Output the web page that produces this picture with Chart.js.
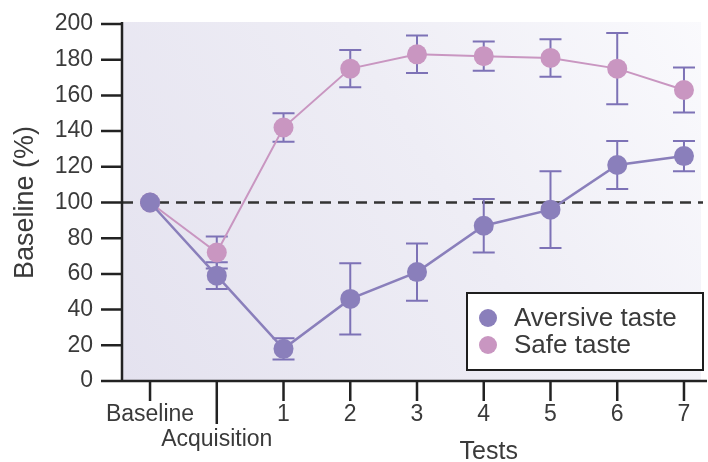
<!DOCTYPE html>
<html>
<head>
<meta charset="utf-8">
<script src="https://cdn.jsdelivr.net/npm/chart.js@4.4.1/dist/chart.umd.min.js"></script>
<style>
  html, body { margin: 0; padding: 0; background: #ffffff; }
  #wrap { width: 708px; height: 462px; position: relative; }
</style>
</head>
<body>
<div id="wrap"><canvas id="c"></canvas></div>
<script>
// Session stages along the x axis (index = position on the axis)
const stages = ['Baseline', 'Acquisition', '1', '2', '3', '4', '5', '6', '7'];
const testGroupLabel = 'Tests';
const yTicks = [0, 20, 40, 60, 80, 100, 120, 140, 160, 180, 200];
const referenceLevel = 100;

// Consumption relative to baseline (%), mean and error per stage
const aversiveMean = [100, 59, 18, 46, 61, 87, 96, 121, 126];
const aversiveErr  = [0, 7.5, 6, 20, 16, 15, 21.5, 13.5, 8.5];
const safeMean     = [100, 72, 142, 175, 183, 182, 181, 175, 163];
const safeErr      = [0, 9, 8, 10.5, 10.5, 8.2, 10.5, 20, 12.6];

const seriesNames = ['Aversive taste', 'Safe taste'];
const purple = '#8a7fbb';
const pink = '#c996c1';
const errColor = '#7d72b6';
const ink = '#3a3a3a';
const FONT = '"Liberation Sans", Arial, sans-serif';

const toPoints = (arr) => arr.map((v, i) => ({ x: i, y: v }));

const frame = {
  id: 'frame',
  beforeDraw(chart) {
    const { ctx, chartArea: a } = chart;
    const g = ctx.createLinearGradient(a.left, a.bottom, a.right, a.top);
    g.addColorStop(0, '#e4e2ef');
    g.addColorStop(0.55, '#eeedf5');
    g.addColorStop(1, '#fafafd');
    ctx.save();
    ctx.fillStyle = g;
    ctx.fillRect(a.left, a.top - 2, a.right - a.left - 6, a.bottom - a.top + 2);
    ctx.restore();
  },
  beforeDatasetsDraw(chart) {
    const { ctx, chartArea: a, scales: { x, y } } = chart;
    ctx.save();
    // reference line at baseline level
    const yr = y.getPixelForValue(referenceLevel);
    ctx.strokeStyle = '#333333';
    ctx.lineWidth = 2.5;
    ctx.setLineDash([11, 7]);
    ctx.beginPath();
    ctx.moveTo(a.left, yr);
    ctx.lineTo(a.right - 4, yr);
    ctx.stroke();
    ctx.setLineDash([]);
    // error bars
    ctx.strokeStyle = errColor;
    ctx.lineWidth = 2;
    const cap = 11;
    [[safeMean, safeErr], [aversiveMean, aversiveErr]].forEach(([m, e]) => {
      m.forEach((v, i) => {
        if (!e[i]) return;
        const px = x.getPixelForValue(i);
        const hi = y.getPixelForValue(v + e[i]);
        const lo = y.getPixelForValue(v - e[i]);
        ctx.beginPath();
        ctx.moveTo(px, hi); ctx.lineTo(px, lo);
        ctx.moveTo(px - cap, hi); ctx.lineTo(px + cap, hi);
        ctx.moveTo(px - cap, lo); ctx.lineTo(px + cap, lo);
        ctx.stroke();
      });
    });
    ctx.restore();
  },
  afterDraw(chart) {
    const { ctx, chartArea: a, scales: { x, y } } = chart;
    ctx.save();
    ctx.strokeStyle = '#222222';
    ctx.lineWidth = 2.5;
    ctx.beginPath();
    // axes
    ctx.moveTo(a.left, a.top - 2); ctx.lineTo(a.left, a.bottom);
    ctx.lineTo(a.right, a.bottom);
    // y tick marks
    y.ticks.forEach(t => {
      const py = y.getPixelForValue(t.value);
      ctx.moveTo(a.left - 21, py); ctx.lineTo(a.left, py);
    });
    // x tick marks (the acquisition mark is longer)
    x.ticks.forEach(t => {
      const px = x.getPixelForValue(t.value);
      const len = stages[t.value] === 'Acquisition' ? 43 : 20;
      ctx.moveTo(px, a.bottom); ctx.lineTo(px, a.bottom + len);
    });
    ctx.stroke();

    // group label under the test sessions
    const first = stages.indexOf('1'), last = stages.indexOf('7');
    ctx.fillStyle = ink;
    ctx.font = '25px ' + FONT;
    ctx.textAlign = 'center';
    ctx.textBaseline = 'middle';
    ctx.fillText(testGroupLabel, x.getPixelForValue((first + last) / 2) + 5, 452);

    // legend box
    const bx = a.right - 240, by = a.bottom - 88, bw = 236, bh = 77;
    ctx.fillStyle = '#ffffff';
    ctx.fillRect(bx, by, bw, bh);
    ctx.strokeStyle = '#1e1e1e';
    ctx.lineWidth = 2;
    ctx.strokeRect(bx, by, bw, bh);
    const colors = [purple, pink];
    seriesNames.forEach((name, i) => {
      const cy = by + 25 + i * 27;
      ctx.fillStyle = colors[i];
      ctx.beginPath();
      ctx.arc(bx + 21, cy, 9, 0, Math.PI * 2);
      ctx.fill();
      ctx.fillStyle = ink;
      ctx.font = '26px ' + FONT;
      ctx.textAlign = 'left';
      ctx.textBaseline = 'middle';
      ctx.fillText(name, bx + 47, cy + 1);
    });
    ctx.restore();
  }
};

new Chart(document.getElementById('c'), {
  type: 'line',
  data: {
    datasets: [
      {
        label: seriesNames[0],
        data: toPoints(aversiveMean),
        borderColor: purple,
        backgroundColor: purple,
        borderWidth: 2.5,
        pointRadius: 10,
        pointBorderWidth: 0,
        pointBackgroundColor: purple,
        tension: 0
      },
      {
        label: seriesNames[1],
        data: toPoints(safeMean),
        borderColor: pink,
        backgroundColor: pink,
        borderWidth: 2,
        pointRadius: 10,
        pointBorderWidth: 0,
        pointBackgroundColor: pink,
        tension: 0
      }
    ]
  },
  options: {
    responsive: true,
    maintainAspectRatio: false,
    animation: false,
    layout: { autoPadding: false, padding: { left: 9, top: 24, right: 1, bottom: 0 } },
    plugins: { legend: { display: false }, tooltip: { enabled: false } },
    scales: {
      x: {
        type: 'linear',
        min: -0.42,
        max: 8.345,
        grid: { display: false, drawTicks: false },
        border: { display: false },
        afterBuildTicks: (s) => { s.ticks = stages.map((_, i) => ({ value: i })); },
        afterFit: (s) => { s.height = 81; s.paddingLeft = 0; s.paddingRight = 0; },
        ticks: {
          autoSkip: false,
          maxRotation: 0,
          padding: 21,
          color: ink,
          font: { family: FONT, size: 23, lineHeight: 1.1 },
          callback: (v) => stages[v] === 'Acquisition' ? ['', stages[v]] : stages[v]
        }
      },
      y: {
        min: 0,
        max: 200,
        grid: { display: false, drawTicks: false },
        border: { display: false },
        afterBuildTicks: (s) => { s.ticks = yTicks.map(v => ({ value: v })); },
        afterFit: (s) => { s.width = 113; s.paddingTop = 0; s.paddingBottom = 0; },
        ticks: {
          padding: 29,
          color: ink,
          font: { family: FONT, size: 23 }
        },
        title: {
          display: true,
          text: 'Baseline (%)',
          color: ink,
          padding: 0,
          font: { family: FONT, size: 27, lineHeight: 1.2 }
        }
      }
    }
  },
  plugins: [frame]
});
</script>
</body>
</html>
